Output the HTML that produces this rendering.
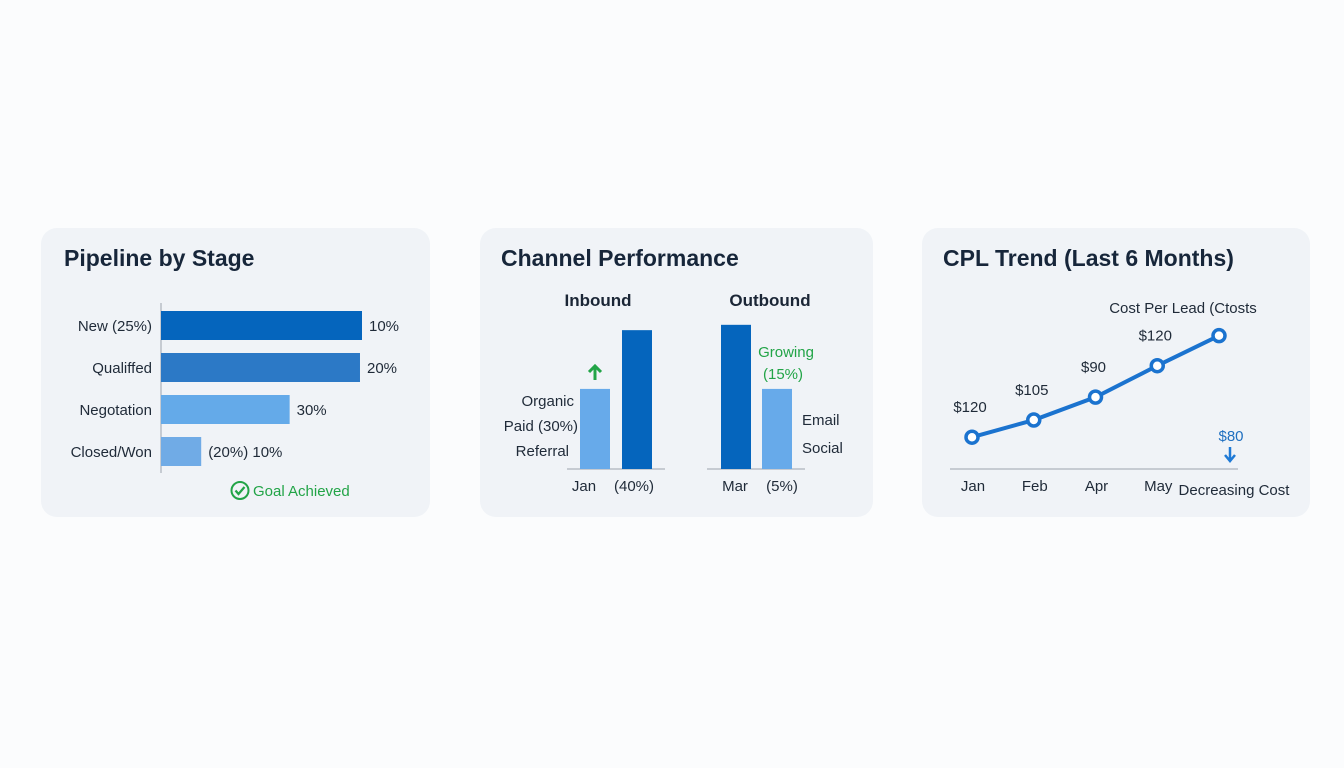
<!DOCTYPE html>
<html><head><meta charset="utf-8"><style>
html,body{margin:0;padding:0;background:#fbfcfd;}
body{width:1344px;height:768px;overflow:hidden;font-family:"Liberation Sans",sans-serif;}
svg{display:block}
</style></head><body>
<svg id="s" width="1344" height="768" viewBox="0 0 1344 768" font-family="Liberation Sans, sans-serif">
<rect width="1344" height="768" fill="#fbfcfd"/>
<rect x="41" y="228" width="389" height="289" rx="16" fill="#f0f3f7"/>
<rect x="480" y="228" width="393" height="289" rx="16" fill="#f0f3f7"/>
<rect x="922" y="228" width="388" height="289" rx="16" fill="#f0f3f7"/>
<text x="64" y="266" font-size="23" font-weight="bold" fill="#17263a">Pipeline by Stage</text>
<text x="501" y="266" font-size="23" font-weight="bold" fill="#17263a">Channel Performance</text>
<text x="943" y="266" font-size="23" font-weight="bold" fill="#17263a">CPL Trend (Last 6 Months)</text>
<line x1="161" y1="303" x2="161" y2="473" stroke="#b8bec6" stroke-width="1.5"/>
<g id="pipe"></g>
<g>
<circle cx="240" cy="490.5" r="8.5" fill="none" stroke="#22a447" stroke-width="2"/>
<path d="M235.5 490.5 l3 3.5 l6 -7" fill="none" stroke="#22a447" stroke-width="2.2"/>
<text x="253" y="496" font-size="15" fill="#22a447">Goal Achieved</text>
</g>
<text x="598" y="306" font-size="17" font-weight="bold" fill="#1b2636" text-anchor="middle">Inbound</text>
<text x="770" y="306" font-size="17" font-weight="bold" fill="#1b2636" text-anchor="middle">Outbound</text>
<line x1="567" y1="469" x2="665" y2="469" stroke="#b8bec6" stroke-width="1.5"/>
<line x1="707" y1="469" x2="805" y2="469" stroke="#b8bec6" stroke-width="1.5"/>
<g id="chan"></g>
<path d="M595 366 v14 M589 372 l6 -6 l6 6" stroke="#22a447" stroke-width="3" fill="none"/>
<g font-size="15" fill="#1f2a38">
<text x="574" y="406" text-anchor="end">Organic</text>
<text x="578" y="431" text-anchor="end">Paid (30%)</text>
<text x="569" y="456" text-anchor="end">Referral</text>
<text x="584" y="491" text-anchor="middle">Jan</text>
<text x="634" y="491" text-anchor="middle">(40%)</text>
<text x="735" y="491" text-anchor="middle">Mar</text>
<text x="782" y="491" text-anchor="middle">(5%)</text>
<text x="802" y="425">Email</text>
<text x="802" y="453">Social</text>
</g>
<text x="786" y="357" font-size="15" fill="#22a447" text-anchor="middle">Growing</text>
<text x="783" y="379" font-size="15" fill="#22a447" text-anchor="middle">(15%)</text>
<line x1="950" y1="469" x2="1238" y2="469" stroke="#b8bec6" stroke-width="1.5"/>
<text x="1183" y="313" font-size="15" fill="#1f2a38" text-anchor="middle">Cost Per Lead (Ctosts</text>
<g id="cpl"></g>
<text x="1231" y="441" font-size="15" fill="#1f6fc0" text-anchor="middle">$80</text>
<path d="M1230 447 v13 M1225 455 l5 6 l5 -6" stroke="#1f7ad6" stroke-width="2.5" fill="none"/>
<text x="1234" y="495" font-size="15" fill="#1f2a38" text-anchor="middle">Decreasing Cost</text>
</svg>
<script>
const pipeStages=["New (25%)","Qualiffed","Negotation","Closed/Won"];
const pipeValues=[100,99,64,20];
const pipeValueLabels=["10%","20%","30%","(20%)  10%"];
const chanCats=["Organic","Inbound dark","Outbound dark","Outbound light"];
const chanValues=[30,52,54,30];
const cplMonths=["Jan","Feb","Apr","May",""];
const cplValues=[60,72,88,110,131];
const cplLabels=["$120","$105","$90","$120",""];

const NS="http://www.w3.org/2000/svg";
function mk(tag,attrs,parent,text){const e=document.createElementNS(NS,tag);for(const k in attrs)e.setAttribute(k,attrs[k]);if(text!==undefined)e.textContent=text;parent.appendChild(e);return e;}

// Pipeline
const pipeX=v=>161+v*2.01;
const pipeY=i=>311+i*42;
const pipeColors=["#0565bd","#2c79c6","#64aae9","#70abe6"];
const gp=document.getElementById('pipe');
pipeStages.forEach((s,i)=>{
  const r=mk('rect',{x:161,y:pipeY(i),width:pipeX(pipeValues[i])-161,height:29,fill:pipeColors[i]},gp);
  
  
  const t=mk('text',{x:152,y:pipeY(i)+20,'font-size':15,fill:'#1f2a38','text-anchor':'end'},gp,s);
  
  
  const v=mk('text',{x:pipeX(pipeValues[i])+7,y:pipeY(i)+20,'font-size':15,fill:'#1f2a38'},gp,pipeValueLabels[i]);
  
  
});

// Channel
const chanH=v=>v*2.67;
const chanXs=[580,622,721,762];
const chanColors=["#67aaea","#0565bd","#0565bd","#67aaea"];
const gc=document.getElementById('chan');
chanCats.forEach((c,i)=>{
  const h=chanH(chanValues[i]);
  const r=mk('rect',{x:chanXs[i],y:469-h,width:30,height:h,fill:chanColors[i]},gc);
  
  
});

// CPL
const cplX=i=>972+i*61.75;
const cplY=v=>523-v*1.43;
const g3=document.getElementById('cpl');
const pts=cplValues.map((v,i)=>cplX(i)+','+cplY(v)).join(' ');
const pl=mk('polyline',{points:pts,fill:'none',stroke:'#1b73cf','stroke-width':4},g3);


cplValues.forEach((v,i)=>{
  const c=mk('circle',{cx:cplX(i),cy:cplY(v),r:6,fill:'#fff',stroke:'#1b73cf','stroke-width':3.5},g3);
  
  
  if(cplLabels[i]){
    const t=mk('text',{x:cplX(i)-2,y:cplY(v)-25,'font-size':15,fill:'#1f2a38','text-anchor':'middle'},g3,cplLabels[i]);
    
    
  }
  if(cplMonths[i]){
    const m=mk('text',{x:cplX(i)+1,y:491,'font-size':15,fill:'#1f2a38','text-anchor':'middle'},g3,cplMonths[i]);
    
    
  }
});
</script>
</body></html>
